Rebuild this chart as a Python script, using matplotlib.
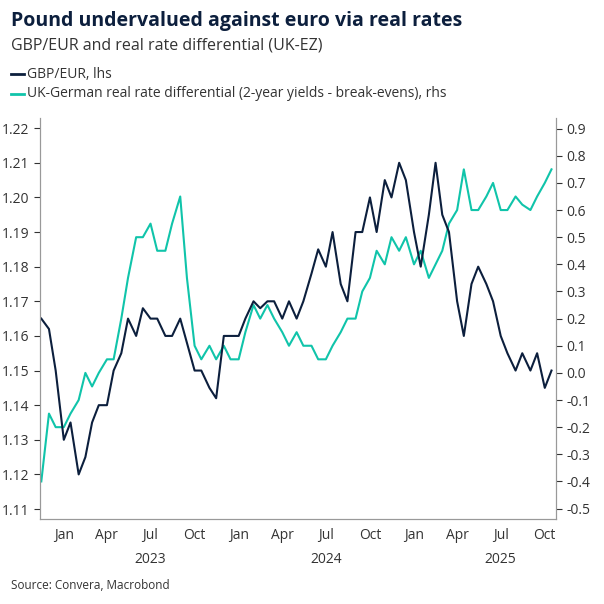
import numpy as np
import pandas as pd
import matplotlib.pyplot as plt
import matplotlib.dates as mdates

plt.rcParams['font.family'] = ['Open Sans', 'DejaVu Sans']

# semi-monthly readings, 2022-11-15 .. 2025-10-15
dates = pd.date_range('2022-11-15', '2025-10-15', freq='SMS')

gbp_eur = [1.165, 1.162, 1.15,
           1.13, 1.135, 1.12, 1.125, 1.135, 1.14, 1.14, 1.15, 1.155, 1.165, 1.16, 1.168,
           1.165, 1.165, 1.16, 1.16, 1.165, 1.158, 1.15, 1.15, 1.145, 1.142, 1.16, 1.16,
           1.16, 1.165, 1.17, 1.168, 1.17, 1.17, 1.165, 1.17, 1.165, 1.17, 1.178, 1.185,
           1.18, 1.19, 1.175, 1.17, 1.19, 1.19, 1.20, 1.19, 1.205, 1.20, 1.21, 1.205,
           1.19, 1.18, 1.195, 1.21, 1.195, 1.19, 1.17, 1.16, 1.175, 1.18, 1.175, 1.17,
           1.16, 1.155, 1.15, 1.155, 1.15, 1.155, 1.145, 1.15]

real_diff = [-0.4, -0.15, -0.2,
             -0.2, -0.15, -0.1, 0.0, -0.05, 0.0, 0.05, 0.05, 0.2, 0.35, 0.5, 0.5,
             0.55, 0.45, 0.45, 0.55, 0.65, 0.35, 0.1, 0.05, 0.1, 0.05, 0.1, 0.05,
             0.05, 0.15, 0.25, 0.2, 0.25, 0.2, 0.15, 0.1, 0.15, 0.1, 0.1, 0.05,
             0.05, 0.1, 0.15, 0.2, 0.2, 0.3, 0.35, 0.45, 0.4, 0.5, 0.45, 0.5,
             0.4, 0.45, 0.35, 0.4, 0.45, 0.55, 0.6, 0.75, 0.6, 0.6, 0.65, 0.7,
             0.6, 0.6, 0.65, 0.62, 0.6, 0.65, 0.7, 0.75]

navy = '#0c1f3d'
teal = '#10c4aa'

fig = plt.figure(figsize=(6.04, 6.04), dpi=100)
ax = fig.add_axes([0.066, 0.14, 0.855, 0.665])
ax2 = ax.twinx()

ax2.plot(dates, real_diff, color=teal, lw=1.5)
ax.plot(dates, gbp_eur, color=navy, lw=1.5)
ax.set_zorder(ax2.get_zorder() + 1)
ax.patch.set_visible(False)

ax.set_ylim(1.107, 1.223)
ax.set_yticks(np.arange(1.11, 1.2201, 0.01))
ax.set_yticklabels([f'{v:.2f}' for v in np.arange(1.11, 1.2201, 0.01)])
ax2.set_ylim(-0.54, 0.94)
ax2.set_yticks(np.arange(-0.5, 0.901, 0.1))
ax2.set_yticklabels([f'{v:.1f}'.replace('-0.0', '0.0') for v in np.arange(-0.5, 0.901, 0.1)])

ax.set_xlim(pd.Timestamp('2022-11-12'), pd.Timestamp('2025-10-25'))
ax.xaxis.set_major_locator(mdates.MonthLocator(bymonth=[1, 4, 7, 10]))
ax.xaxis.set_major_formatter(mdates.DateFormatter('%b'))
for yr in (2023, 2024, 2025):
    ax.text(pd.Timestamp(f'{yr}-07-01'), -0.08, str(yr), transform=ax.get_xaxis_transform(),
            ha='center', va='top', fontsize=10, color='#333333')

for a in (ax, ax2):
    a.spines['top'].set_visible(False)
    for s in a.spines.values():
        s.set_color('#999999')
    a.tick_params(labelsize=10, colors='#333333', length=4)
ax.tick_params(axis='x', length=0, pad=6)

fig.text(0.018, 0.965, 'Pound undervalued against euro via real rates', fontsize=14,
         fontweight='bold', color='#0c1f3d', va='center')
fig.text(0.018, 0.925, 'GBP/EUR and real rate differential (UK-EZ)', fontsize=11.5,
         color='#333333', va='center')
fig.lines.append(plt.Line2D([0.018, 0.04], [0.877, 0.877], color=navy, lw=2, transform=fig.transFigure))
fig.text(0.045, 0.877, 'GBP/EUR, lhs', fontsize=10, color='#333333', va='center')
fig.lines.append(plt.Line2D([0.018, 0.04], [0.845, 0.845], color=teal, lw=2, transform=fig.transFigure))
fig.text(0.045, 0.845, 'UK-German real rate differential (2-year yields - break-evens), rhs',
         fontsize=10, color='#333333', va='center')
fig.text(0.018, 0.03, 'Source: Convera, Macrobond', fontsize=8.5, color='#333333', va='center')

fig.savefig('out.png', dpi=100)
